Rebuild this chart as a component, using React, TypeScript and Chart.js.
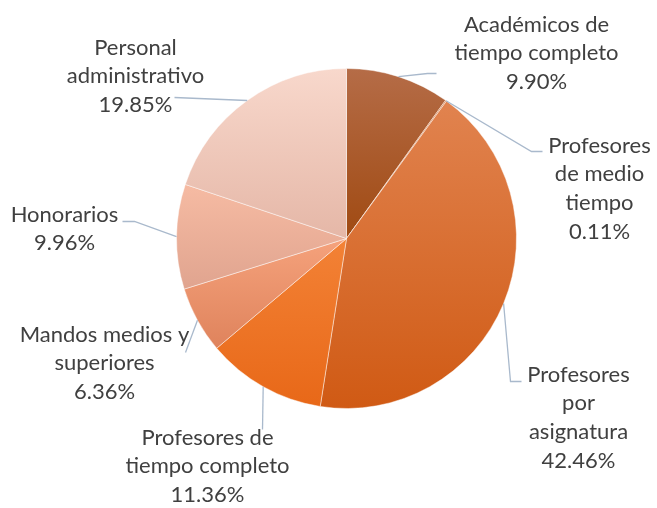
import React, { useEffect, useRef } from "react";
import { Chart, registerables } from "chart.js";

Chart.register(...registerables);

const categories: string[][] = [
  ["Académicos de", "tiempo completo"],
  ["Profesores", "de medio", "tiempo"],
  ["Profesores", "por", "asignatura"],
  ["Profesores de", "tiempo completo"],
  ["Mandos medios y", "superiores"],
  ["Honorarios"],
  ["Personal", "administrativo"],
];
const values: number[] = [9.9, 0.11, 42.46, 11.36, 6.36, 9.96, 19.85];

const topColors = ["#b56c47", "#d47a45", "#e1834f", "#f38236", "#f5a27c", "#f6bba3", "#f8d8cc"];
const bottomColors = ["#a04a12", "#c86a30", "#d05a14", "#e86818", "#df835c", "#e0a48f", "#e5b7a7"];

// label layout relative to pie centre: text centre x, first baseline y, elbow, end
const labelLayout = [
  { tx: 190, ty: -207, elbow: [81, -165], end: [90, -165] },
  { tx: 253, ty: -86, elbow: [185, -87], end: [196, -87] },
  { tx: 232, ty: 143, elbow: [164, 143], end: [175, 143] },
  { tx: -139, ty: 206, elbow: null, end: [-84, 191] },
  { tx: -242, ty: 103, elbow: null, end: [-161, 114] },
  { tx: -282, ty: -17, elbow: [-212, -17], end: [-224, -17] },
  { tx: -211, ty: -184, elbow: null, end: [-172, -141] },
];

const FONT = "22px Lato, 'Open Sans', sans-serif";
const LINE_H = 28.7;
const BORDER = 1;

function sliceGradient(chart: any, index: number) {
  const area = chart.chartArea;
  if (!area) return topColors[index];
  const cx = (area.left + area.right) / 2;
  const cy = (area.top + area.bottom) / 2;
  const r = (Math.min(area.right - area.left, area.bottom - area.top) - BORDER) / 2;
  const total = values.reduce((a, b) => a + b, 0);
  let start = -Math.PI / 2;
  for (let i = 0; i < index; i++) start += (values[i] / total) * Math.PI * 2;
  const end = start + (values[index] / total) * Math.PI * 2;
  const ys = [cy, cy + r * Math.sin(start), cy + r * Math.sin(end)];
  const inRange = (a: number) => (a >= start - 1e-6 && a <= end + 1e-6);
  if (inRange(-Math.PI / 2) || inRange(1.5 * Math.PI)) ys.push(cy - r);
  if (inRange(Math.PI / 2)) ys.push(cy + r);
  const y0 = Math.min(...ys);
  const y1 = Math.max(...ys);
  const g = chart.ctx.createLinearGradient(0, y0, 0, y1 + 0.01);
  g.addColorStop(0, topColors[index]);
  g.addColorStop(1, bottomColors[index]);
  return g;
}

const labelPlugin = {
  id: "pieLabels",
  afterDatasetsDraw(chart: any) {
    const meta = chart.getDatasetMeta(0);
    const ctx = chart.ctx;
    ctx.save();
    meta.data.forEach((arc: any, i: number) => {
      const { x: cx, y: cy, outerRadius, startAngle, endAngle } = arc.getProps(
        ["x", "y", "outerRadius", "startAngle", "endAngle"],
        true
      );
      const mid = (startAngle + endAngle) / 2;
      const px = cx + outerRadius * Math.cos(mid);
      const py = cy + outerRadius * Math.sin(mid);
      const L = labelLayout[i];
      ctx.beginPath();
      ctx.strokeStyle = "#a9b9cc";
      ctx.lineWidth = 1.3;
      ctx.moveTo(px, py);
      if (L.elbow) ctx.lineTo(cx + L.elbow[0], cy + L.elbow[1]);
      ctx.lineTo(cx + L.end[0], cy + L.end[1]);
      ctx.stroke();

      const lines = [...categories[i], values[i].toFixed(2) + "%"];
      ctx.fillStyle = "#404040";
      ctx.font = FONT;
      ctx.textAlign = "center";
      ctx.textBaseline = "alphabetic";
      lines.forEach((t, k) => {
        ctx.fillText(t, cx + L.tx, cy + L.ty + k * LINE_H);
      });
    });
    ctx.restore();
  },
};

export default function App() {
  const ref = useRef<HTMLCanvasElement>(null);
  useEffect(() => {
    if (!ref.current) return;
    const chart = new Chart(ref.current, {
      type: "pie",
      data: {
        labels: categories.map((c) => c.join(" ")),
        datasets: [
          {
            data: values,
            backgroundColor: (c: any) => sliceGradient(c.chart, c.dataIndex),
            borderColor: "rgba(255,255,255,0.45)",
            borderWidth: BORDER,
          },
        ],
      },
      options: {
        responsive: false,
        animation: false,
        layout: { padding: { left: 176, right: 140, top: 68, bottom: 99 } },
        plugins: {
          legend: { display: false },
          tooltip: { enabled: false },
        },
      },
      plugins: [labelPlugin],
    });
    return () => chart.destroy();
  }, []);
  return (
    <div style={{ position: "absolute", left: 0, top: 0, width: 657, height: 508, background: "#fff" }}>
      <canvas ref={ref} width={657} height={508} style={{ display: "block" }} />
    </div>
  );
}
